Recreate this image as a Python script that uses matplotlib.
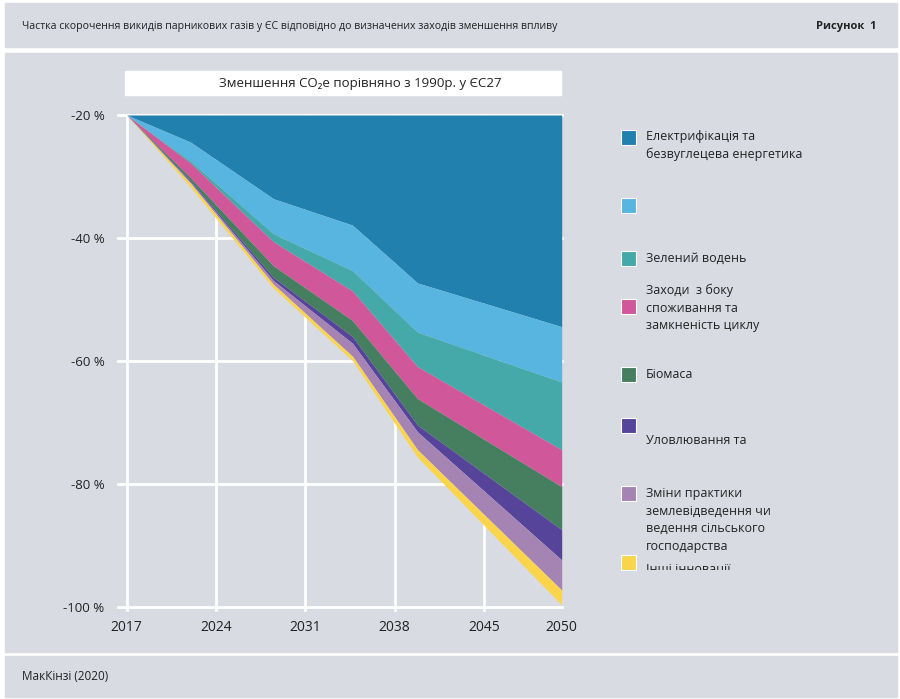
import numpy as np
import matplotlib.pyplot as plt
from matplotlib.patches import Rectangle
from matplotlib.transforms import Bbox

plt.rcParams['font.family'] = ['Open Sans', 'DejaVu Sans']

# positions on the drawn time axis (the axis is stretched, 2050 sits at the right edge)
years = [2017, 2022, 2028.5, 2034.7, 2039.8, 2051.1]
tick_pos = [2017, 2024, 2031, 2038, 2045, 2051.1]
tick_labels = ['2017', '2024', '2031', '2038', '2045', '2050']

# reductions in percentage points, stacked below the -20 % start
electrification = [0, 4.4, 13.6, 17.9, 27.3, 34.4]
unnamed_blue = [0, 3.1, 5.7, 7.4, 8.0, 9.0]
green_hydrogen = [0, 0.3, 1.3, 3.3, 5.6, 11.0]
demand_side = [0, 2.4, 3.9, 4.8, 5.2, 6.0]
biomass = [0, 0.5, 1.9, 2.6, 4.3, 7.0]
capture = [0, 0.2, 0.5, 1.1, 1.1, 4.9]
land_use = [0, 0.2, 0.6, 2.1, 2.9, 4.9]
other = [0, 0.6, 0.6, 0.7, 1.2, 2.4]

series = [electrification, unnamed_blue, green_hydrogen, demand_side,
          biomass, capture, land_use, other]
colors = ['#2280ae', '#58b5df', '#45a9a9', '#d0579a',
          '#467f5f', '#56449b', '#a584b4', '#fad54b']
labels = ['Електрифікація та\nбезвуглецева енергетика', '', 'Зелений водень',
          'Заходи  з боку\nспоживання та\nзамкненість циклу', 'Біомаса',
          'Уловлювання та', 'Зміни практики\nземлевідведення чи\nведення сільського\nгосподарства',
          'Інші інновації']
yticks = [-20, -40, -60, -80, -100]

W, H = 900, 699
bg = '#d8dbe2'
fig = plt.figure(figsize=(W / 100, H / 100), dpi=100, facecolor='white')


def fx(x):
    return x / W


def fy(y):
    return 1 - y / H


def panel(x0, y0, x1, y1, color=bg):
    fig.patches.append(Rectangle((fx(x0), fy(y1)), fx(x1 - x0), (y1 - y0) / H,
                                 transform=fig.transFigure, color=color, zorder=-5))


panel(5, 3, 897, 47)
panel(5, 53, 897, 652)
panel(5, 656, 897, 697)

narrow = ['Liberation Sans Narrow', 'Open Sans']
fig.text(fx(22), fy(26), 'Частка скорочення викидів парникових газів у ЄС відповідно до визначених заходів зменшення впливу',
         fontsize=7.55, va='center', ha='left', color='#222222', family=narrow)
fig.text(fx(876), fy(26), 'Рисунок  1', fontsize=8, va='center', ha='right',
         fontweight='bold', color='#222222', family=narrow)
fig.text(fx(22), fy(676), 'МакКінзі (2020)', fontsize=8.5, va='center', ha='left', color='#222222')

# title box
panel(125, 71, 561, 95, color='white')
fig.text(fx(360), fy(83), 'Зменшення CO₂e порівняно з 1990р. у ЄС27', fontsize=9.5,
         ha='center', va='center', color='#222222')

ax = fig.add_axes([fx(126.7), fy(607.3), fx(561.7 - 126.7), (607.3 - 115) / H])
ax.set_zorder(1)
ax.set_facecolor('none')
for s in ax.spines.values():
    s.set_visible(False)
ax.set_xlim(2017, 2051.1)
ax.set_ylim(-100, -20)

# white grid
for yv in yticks:
    ax.plot([2017 - 0.7, 2051.1], [yv, yv], color='white', lw=2, clip_on=False, zorder=1)
for xv in tick_pos[:-1]:
    ax.plot([xv, xv], [-100.5, -20], color='white', lw=2, clip_on=False, zorder=1)

top = np.full(len(years), -20.0)
for vals, c in zip(series, colors):
    bottom = top - np.array(vals)
    ax.fill_between(years, top, bottom, color=c, lw=0, zorder=2)
    top = bottom

ax.set_xticks(tick_pos)
ax.set_xticklabels(tick_labels, family=narrow, fontsize=10)
ax.set_yticks(yticks)
ax.set_yticklabels([f'{v} %' for v in yticks])
ax.tick_params(length=0, colors='#222222')
ax.tick_params(axis='y', pad=16, labelsize=9.5)
ax.tick_params(axis='x', pad=9)

# legend
square_y = [137, 206, 258, 306, 374, 425, 493, 562]
text_y = [145.5, 206, 258, 308, 374, 441, 520, 569]
for c, lab, sy, ty in zip(colors, labels, square_y, text_y):
    fig.patches.append(Rectangle((fx(621), fy(sy + 7.5)), fx(15), 15 / H,
                                 transform=fig.transFigure, facecolor=c,
                                 edgecolor='white', lw=0.8, zorder=3))
    if lab:
        t = fig.text(fx(646), fy(ty), lab, fontsize=9, ha='left', va='center',
                     color='#222222', linespacing=1.45)
        if lab == 'Інші інновації':
            t.set_clip_box(Bbox([[0, H - 570], [W, H]]))
            t.set_clip_on(True)

fig.savefig('out.png', dpi=100, facecolor='white')
